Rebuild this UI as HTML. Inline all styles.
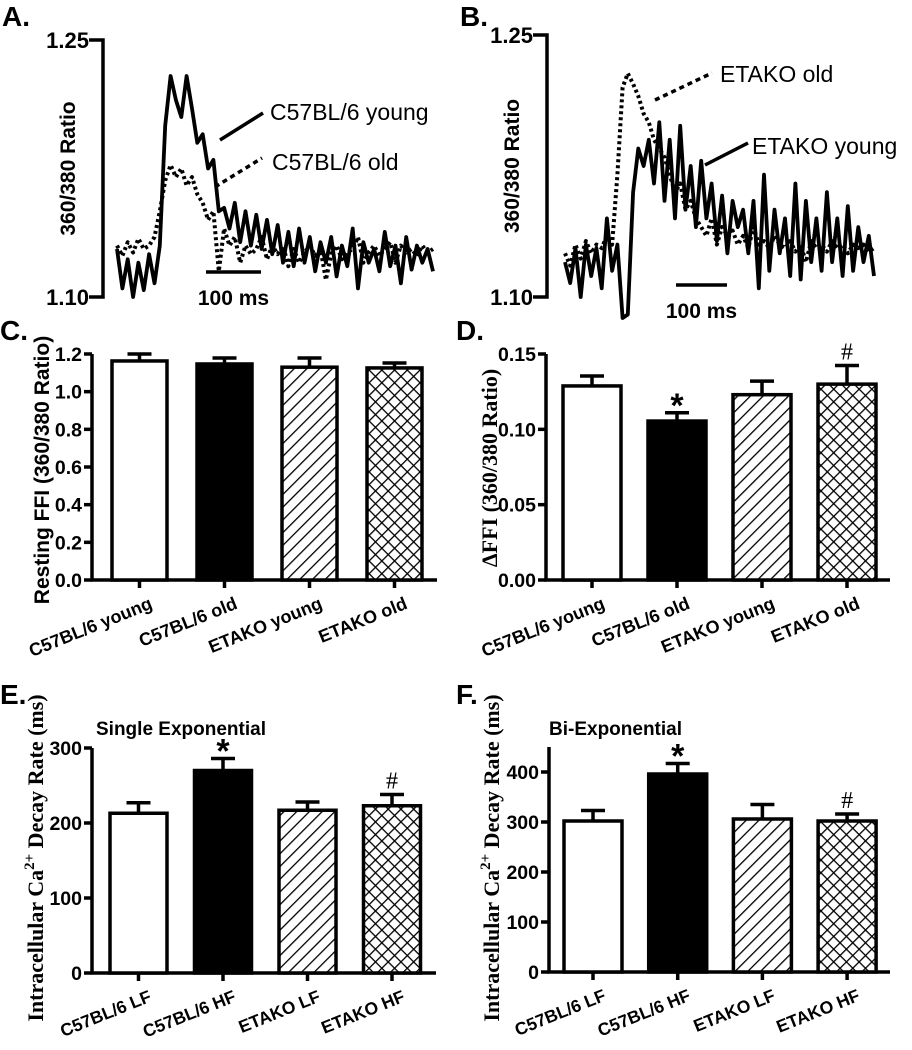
<!DOCTYPE html>
<html><head><meta charset="utf-8"><style>
body{margin:0;background:#fff}
svg{display:block;font-family:"Liberation Sans",Arial,sans-serif}
</style></head><body>
<svg id="fig" width="912" height="1050" viewBox="0 0 912 1050">
<defs>
<pattern id="hatch" patternUnits="userSpaceOnUse" width="9" height="9" patternTransform="rotate(45)"><rect width="9" height="9" fill="#fff"/><line x1="0" y1="0" x2="0" y2="9" stroke="#000" stroke-width="2.6"/></pattern>
<pattern id="cross" patternUnits="userSpaceOnUse" width="9" height="9" patternTransform="rotate(45)"><rect width="9" height="9" fill="#fff"/><line x1="0" y1="0" x2="0" y2="9" stroke="#000" stroke-width="2.6"/><line x1="0" y1="0" x2="9" y2="0" stroke="#000" stroke-width="2.6"/></pattern>
</defs>
<g id="root"></g>
</svg>
<script>
// ---- Panel A traces (360/380 ratio) ----
const aYoung=[1.128,1.105,1.122,1.1,1.12,1.104,1.125,1.108,1.13,1.2,1.229,1.215,1.205,1.229,1.21,1.19,1.195,1.175,1.18,1.15,1.152,1.14,1.155,1.132,1.15,1.13,1.148,1.128,1.145,1.125,1.142,1.12,1.138,1.118,1.14,1.12,1.135,1.115,1.132,1.12,1.135,1.112,1.13,1.118,1.14,1.105,1.132,1.12,1.128,1.115,1.138,1.118,1.13,1.108,1.135,1.116,1.13,1.12,1.128,1.115];
const aOld=[1.13,1.124,1.132,1.126,1.134,1.128,1.13,1.135,1.15,1.168,1.177,1.17,1.175,1.165,1.17,1.16,1.155,1.145,1.15,1.115,1.14,1.13,1.135,1.12,1.13,1.125,1.128,1.135,1.122,1.13,1.125,1.13,1.118,1.128,1.12,1.126,1.13,1.124,1.128,1.11,1.125,1.13,1.122,1.126,1.128,1.135,1.12,1.126,1.13,1.124,1.128,1.132,1.12,1.13,1.126,1.128,1.124,1.13,1.126,1.128];
// ---- Panel B traces ----
const bYoung=[1.12,1.108,1.128,1.1,1.13,1.112,1.128,1.105,1.145,1.115,1.13,1.088,1.09,1.16,1.185,1.175,1.19,1.165,1.2,1.155,1.19,1.145,1.198,1.15,1.175,1.14,1.178,1.145,1.165,1.132,1.158,1.125,1.155,1.14,1.15,1.125,1.155,1.105,1.17,1.115,1.15,1.125,1.145,1.112,1.165,1.11,1.155,1.12,1.145,1.115,1.16,1.12,1.145,1.112,1.152,1.115,1.14,1.12,1.135,1.112];
const bOld=[1.125,1.118,1.13,1.122,1.132,1.125,1.13,1.128,1.135,1.13,1.17,1.22,1.228,1.222,1.215,1.205,1.2,1.19,1.185,1.18,1.17,1.16,1.165,1.15,1.155,1.145,1.14,1.135,1.145,1.13,1.14,1.135,1.138,1.13,1.135,1.128,1.14,1.13,1.132,1.128,1.135,1.13,1.128,1.132,1.126,1.13,1.12,1.132,1.128,1.13,1.126,1.132,1.128,1.13,1.125,1.13,1.128,1.13,1.126,1.128];
// ---- Bar panels ----
const catsCD=["C57BL/6 young","C57BL/6 old","ETAKO young","ETAKO old"];
const catsEF=["C57BL/6 LF","C57BL/6 HF","ETAKO LF","ETAKO HF"];
const cVals=[1.163,1.147,1.13,1.126]; const cErr=[0.037,0.032,0.049,0.026];
const cTicks=["0.0","0.2","0.4","0.6","0.8","1.0","1.2"];
const dVals=[0.1288,0.1055,0.123,0.130]; const dErr=[0.0066,0.0055,0.009,0.0124];
const dTicks=["0.00","0.05","0.10","0.15"];
const eVals=[213,270,217,223]; const eErr=[14,16,11,15];
const eTicks=["0","100","200","300"];
const fVals=[302,396,306,302]; const fErr=[21,21,29,14];
const fTicks=["0","100","200","300","400"];
const fills=["#fff","#000","url(#hatch)","url(#cross)"];
const NS="http://www.w3.org/2000/svg";
const root=document.getElementById('root');
function mk(tag,attrs,parent){const e=document.createElementNS(NS,tag);for(const k in attrs)e.setAttribute(k,attrs[k]);(parent||root).appendChild(e);return e;}
function txt(s,attrs,parent){const e=mk('text',attrs,parent);e.textContent=s;return e;}

[["A.",2,26],["B.",460,26],["C.",0,340],["D.",456,340],["E.",0,704],["F.",456,704]].forEach(p=>{
 const t=txt(p[0],{x:p[1],y:p[2],'font-size':28,'font-weight':'bold'});
 
 
});

function tracePanel(id,x0,x1,yTop,yBot,series,dashes,brX){
 const g=mk('g',{});
 
 
 const yS=v=>yBot-(v-1.10)/(0.15)*(yBot-yTop);
 const br=mk('path',{d:`M${brX-14},${yTop} H${brX} V${yBot} H${brX-14}`,fill:'none',stroke:'#000','stroke-width':3.5},g);
 
 
 const t1=txt('1.25',{x:brX-14,y:yTop+8,'text-anchor':'end','font-size':22,'font-weight':'bold'},g);
 
 
 const t2=txt('1.10',{x:brX-14,y:yBot+8,'text-anchor':'end','font-size':22,'font-weight':'bold'},g);
 
 
 const yt=txt('360/380 Ratio',{x:0,y:0,transform:`translate(${brX-28},${(yTop+yBot)/2}) rotate(-90)`,'text-anchor':'middle','font-size':21,'font-weight':'bold'},g);
 
 
 series.forEach((s,i)=>{
  const xS=k=>x0+k*(x1-x0)/(s.length-1);
  const pts=s.map((v,k)=>xS(k).toFixed(1)+','+yS(v).toFixed(1)).join(' ');
  const pl=mk('polyline',{points:pts,fill:'none',stroke:'#000','stroke-width':dashes[i]?4:3.8,'stroke-dasharray':dashes[i]?'3,3':'none','stroke-linejoin':'round'},g);
  
  
 });
 return g;
}
const gA=tracePanel('a',117,433,40,297,[aOld,aYoung],[true,false],103);
const gB=tracePanel('b',565,874,35,297,[bOld,bYoung],[true,false],547);
function ann(g,s,x,y,lx1,ly1,lx2,ly2,dash,name){
 const l=mk('line',{x1:lx1,y1:ly1,x2:lx2,y2:ly2,stroke:'#000','stroke-width':3.5,'stroke-dasharray':dash?'5,4':'none'},g);
 
 
 const t=txt(s,{x:x,y:y,'font-size':23},g);
 
 
}
ann(gA,'C57BL/6 young',270,120,220,140,263,113,false,'c57-young');
ann(gA,'C57BL/6 old',272,170,215,187,262,158,true,'c57-old');
ann(gB,'ETAKO old',720,82,655,100,712,73,true,'etako-old');
ann(gB,'ETAKO young',752,154,705,165,748,143,false,'etako-young');
function scaleBar(g,x1,x2,y,ty){
 const l=mk('line',{x1:x1,y1:y,x2:x2,y2:y,stroke:'#000','stroke-width':3.5},g);
 
 
 const t=txt('100 ms',{x:(x1+x2)/2,y:ty,'text-anchor':'middle','font-size':21,'font-weight':'bold'},g);
 
 
}
scaleBar(gA,206,261,272,305);
scaleBar(gB,676,727,285,318);

function barPanel(id,o){
 const g=mk('g',{});
 
 
 const yS=v=>o.y0-(v/o.max)*(o.y0-o.yMax);
 const ax=mk('path',{d:`M${o.ax},${o.axTop} V${o.y0} H${o.xEnd}`,fill:'none',stroke:'#000','stroke-width':3.5},g);
 
 
 o.ticks.forEach(tk=>{
  const y=yS(parseFloat(tk));
  const tl=mk('line',{x1:o.ax-8,y1:y,x2:o.ax,y2:y,stroke:'#000','stroke-width':3.5},g);
  
  
  const tt=txt(tk,{x:o.ax-10,y:y+7,'text-anchor':'end','font-size':19.5,'font-weight':'bold'},g);
  
  
 });
 o.vals.forEach((v,i)=>{
  const bx=o.bx0+i*o.step, cx=bx+o.bw/2, top=yS(v), et=yS(v+o.err[i]);
  const el=mk('path',{d:`M${cx},${top} V${et} M${cx-12},${et} H${cx+12}`,stroke:'#000','stroke-width':3.5,fill:'none'},g);
  
  
  const r=mk('rect',{x:bx,y:top,width:o.bw,height:o.y0-top,fill:fills[i],stroke:'#000','stroke-width':3.5},g);
  
  
  const xt=mk('line',{x1:cx,y1:o.y0,x2:cx,y2:o.y0+8,stroke:'#000','stroke-width':3.5},g);
  
  
  const lab=txt(o.cats[i],{x:0,y:0,transform:`translate(${cx+14},${o.y0+28}) rotate(-22)`,'text-anchor':'end','font-size':o.xfs,'font-weight':'bold'},g);
  
  
  if(o.marks&&o.marks[i]){
   const star=o.marks[i]=='*';
   const m=txt(o.marks[i],{x:cx,y:et-(star?-4:6),'text-anchor':'middle','font-size':star?34:24,'font-weight':star?'bold':'normal','font-family':star?'Liberation Sans':'Liberation Serif'},g);
   
   
  }
 });
 const yt=txt('',{x:0,y:0,transform:`translate(${o.tx},${o.ty}) rotate(-90)`,'text-anchor':'middle','font-size':o.tfs,'font-weight':'bold','font-family':o.serif?'"Liberation Serif",serif':'"Liberation Sans",sans-serif'},g);
 yt.innerHTML=o.title;
 
 
 if(o.sub){const st=txt(o.sub,{x:o.subx,y:o.suby,'font-size':19,'font-weight':'bold'},g);
  
  }
}
barPanel('c',{ax:92,axTop:354,y0:580,yMax:354,max:1.2,xEnd:437,bx0:112,step:85,bw:55,vals:cVals,err:cErr,ticks:cTicks,cats:catsCD,title:'Resting FFI (360/380 Ratio)',tx:49,ty:470,tfs:21,xfs:18});
barPanel('d',{ax:546,axTop:354,y0:580,yMax:354,max:0.15,xEnd:890,bx0:563,step:85,bw:58,vals:dVals,err:dErr,ticks:dTicks,cats:catsCD,marks:[null,'*',null,'#'],title:'ΔFFI (360/380 Ratio)',tx:497,ty:468,tfs:22,serif:true,xfs:18});
barPanel('e',{ax:92,axTop:748,y0:973,yMax:748,max:300,xEnd:436,bx0:110,step:84.5,bw:57,vals:eVals,err:eErr,ticks:eTicks,cats:catsEF,marks:[null,'*',null,'#'],title:'Intracellular Ca<tspan dy="-9" font-size="15">2+</tspan><tspan dy="9"> Decay Rate (ms)</tspan>',tx:43,ty:858,tfs:22,serif:true,xfs:17.5,sub:'Single Exponential',subx:96,suby:735});
barPanel('f',{ax:549,axTop:747,y0:972,yMax:772,max:400,xEnd:890,bx0:564,step:84.7,bw:58,vals:fVals,err:fErr,ticks:fTicks,cats:catsEF,marks:[null,'*',null,'#'],title:'Intracellular Ca<tspan dy="-9" font-size="15">2+</tspan><tspan dy="9"> Decay Rate (ms)</tspan>',tx:499,ty:858,tfs:22,serif:true,xfs:17.5,sub:'Bi-Exponential',subx:549,suby:735});
</script>
</body></html>
